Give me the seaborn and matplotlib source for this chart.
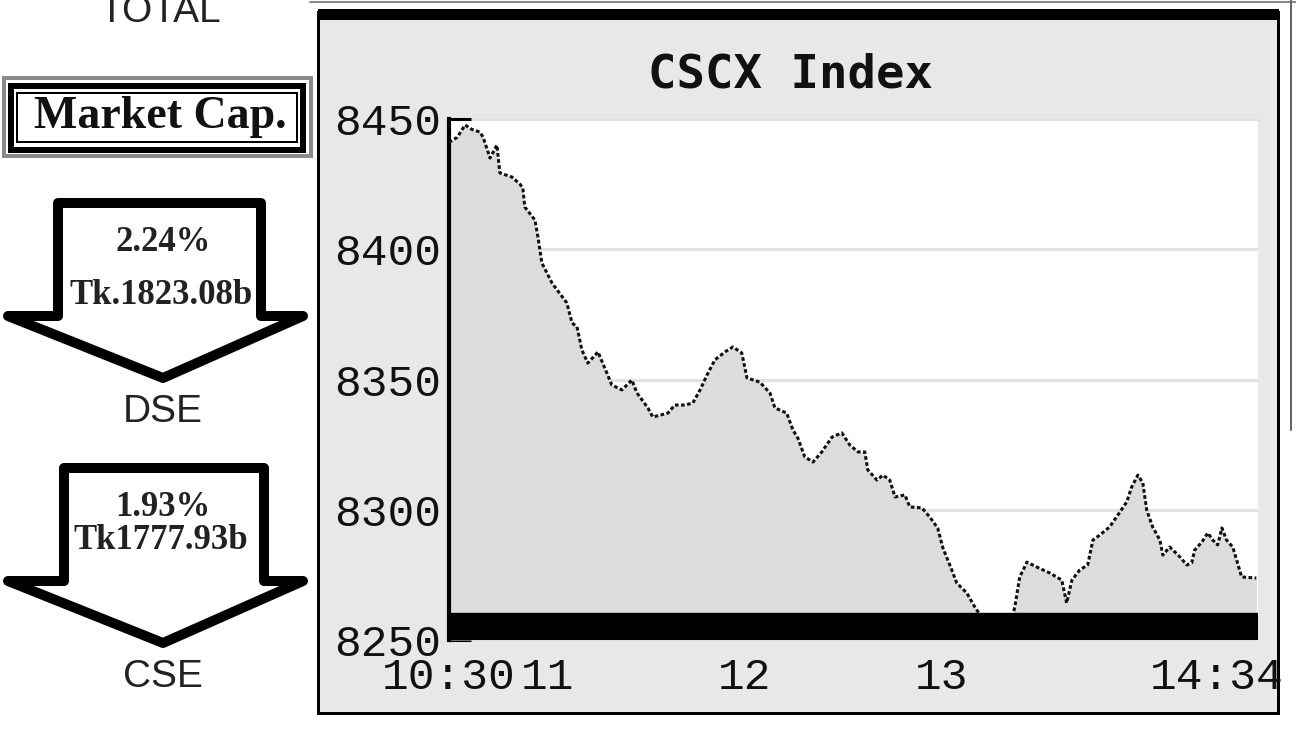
import matplotlib
matplotlib.use("Agg")
import matplotlib.pyplot as plt
import seaborn as sns
import pandas as pd
from matplotlib.patches import Rectangle, Polygon
from matplotlib.ticker import MultipleLocator
from matplotlib.transforms import ScaledTranslation

# CSCX intraday: minutes after 10:30 and index value
minutes = [0.0, 2.5, 4.9, 7.0, 9.4, 10.4, 12.5, 14.6, 15.5, 19.2, 21.6, 22.5, 23.1,
           26.2, 27.1, 28.3, 31.4, 35.9, 37.5, 39.0, 40.5, 42.3, 45.4, 48.1, 49.6,
           52.7, 55.7, 57.3, 60.6, 62.1, 66.7, 68.8, 71.9, 74.3, 76.5, 78.6, 81.0,
           84.1, 86.5, 89.2, 90.8, 94.7, 97.8, 99.3, 102.9, 104.8, 106.3, 108.4,
           110.9, 113.6, 116.7, 119.7, 122.1, 124.6, 126.7, 127.6, 130.4, 132.2,
           134.3, 135.9, 138.9, 140.4, 144.1, 146.5, 148.9, 150.5, 153.2, 154.7,
           157.8, 160.2, 162.7, 171.5, 172.4, 173.9, 176.1, 179.1, 183.1, 186.7,
           188.2, 189.8, 192.2, 194.6, 196.2, 198.3, 201.3, 204.4, 206.5, 208.0,
           209.9, 211.4, 212.6, 214.4, 216.6, 217.5, 219.6, 222.7, 224.8, 226.3,
           227.2, 229.4, 231.2, 232.7, 234.2, 235.5, 236.9, 238.8, 240.0, 241.5,
           246.0]
cscx = [8441.0, 8443.0, 8447.7, 8446.0, 8445.0, 8443.0, 8435.0, 8440.0, 8429.3,
        8427.7, 8425.0, 8423.5, 8416.2, 8411.2, 8404.7, 8394.7, 8387.0, 8379.4,
        8371.7, 8370.2, 8361.3, 8356.3, 8360.6, 8352.5, 8347.9, 8346.0, 8349.8,
        8344.8, 8339.1, 8335.6, 8337.1, 8340.2, 8340.2, 8341.0, 8346.0, 8351.7,
        8357.5, 8360.6, 8362.5, 8360.2, 8350.6, 8349.0, 8344.8, 8339.1, 8337.1,
        8330.6, 8327.5, 8320.3, 8318.3, 8322.2, 8327.9, 8329.5, 8324.9, 8322.2,
        8322.2, 8315.3, 8311.4, 8313.3, 8311.4, 8304.9, 8305.7, 8301.1, 8300.7,
        8297.2, 8293.0, 8285.3, 8276.9, 8271.9, 8268.0, 8262.7, 8258.0, 8258.0,
        8262.7, 8274.2, 8279.9, 8278.0, 8275.7, 8273.0, 8264.2, 8273.0, 8276.9,
        8278.8, 8288.4, 8290.3, 8293.4, 8299.1, 8303.0, 8308.7, 8313.3, 8310.3,
        8299.9, 8293.4, 8288.4, 8282.6, 8285.7, 8281.9, 8278.8, 8279.6, 8284.5,
        8287.6, 8291.1, 8288.4, 8286.5, 8293.0, 8288.4, 8285.7, 8280.7, 8274.2,
        8273.8]

tick_minutes = [0, 30, 90, 150, 244]
tick_labels = ["10:30", "11", "12", "13", "14:34"]
y_ticks = [8250, 8300, 8350, 8400, 8450]

markets = ["DSE", "CSE"]
market_pct = ["2.24%", "1.93%"]
market_cap = ["Tk.1823.08b", "Tk1777.93b"]

sns.set_theme(style="white")
plt.rcParams["font.family"] = ["DejaVu Sans"]

W, H = 1296, 729
px = 0.72  # points per pixel at dpi 100
fig = plt.figure(figsize=(W / 100, H / 100), dpi=100)
fig.patch.set_facecolor("white")

# pixel-space layer for the frame and the left panel
bg = fig.add_axes([0, 0, 1, 1])
bg.set_xlim(0, W)
bg.set_ylim(H, 0)
bg.axis("off")

bg.add_patch(Rectangle((318, 12), 960, 701, facecolor="#e8e8e8",
                       edgecolor="black", lw=3 * px))
bg.add_patch(Rectangle((318, 9), 961, 11, facecolor="black", edgecolor="none"))
bg.plot([310, W], [2, 2], color="#888888", lw=2 * px)
bg.plot([1291, 1291], [0, 430], color="#666666", lw=2 * px)

bg.text(790, 87, "CSCX Index", ha="center", va="baseline", fontsize=34,
        fontweight="bold", family="DejaVu Sans Mono", color="#111111")

# left panel
bg.text(160, 22, "TOTAL", ha="center", va="baseline", fontsize=28,
        family="Liberation Sans", color="#222222")
bg.add_patch(Rectangle((4, 78), 307, 78, fill=False, edgecolor="#8a8a8a", lw=4 * px))
bg.add_patch(Rectangle((11, 86), 292, 64, fill=False, edgecolor="black", lw=6 * px))
bg.add_patch(Rectangle((17, 93), 280, 49, fill=False, edgecolor="black", lw=2 * px))
bg.text(160, 128, "Market Cap.", ha="center", va="baseline", fontsize=33,
        fontweight="bold", family="Liberation Serif", color="#111111")

arrow_top = [203, 468]
shafts = [(58, 261), (64, 264)]
for i, name in enumerate(markets):
    top = arrow_top[i]
    sl, sr = shafts[i]
    shoulder = top + 113
    tip = top + 175
    verts = [(sl, top), (sr, top), (sr, shoulder), (303, shoulder),
             (163, tip), (8, shoulder), (sl, shoulder)]
    bg.add_patch(Polygon(verts, closed=True, facecolor="white", edgecolor="black",
                         lw=10 * px, joinstyle="round"))
    bg.text(163, top + 48, market_pct[i], ha="center", va="baseline", fontsize=25,
            fontweight="bold", family="Liberation Serif", color="#222222")
    bg.text(161, top + 101 - 20 * i, market_cap[i], ha="center", va="baseline",
            fontsize=25, fontweight="bold", family="Liberation Serif", color="#222222")
    bg.text(163, top + 219, name, ha="center", va="baseline", fontsize=28,
            family="Liberation Sans", color="#222222")

# chart
ax = fig.add_axes([449 / W, 1 - 640 / H, 809 / W, 521 / H])
ax.set_zorder(2)
ax.set_facecolor("white")

df = pd.DataFrame({"minute": minutes, "cscx": cscx})
ax.fill_between(df["minute"], df["cscx"], 8250, color="#dcdcdc", lw=0, zorder=1)
sns.lineplot(data=df, x="minute", y="cscx", ax=ax, color="#111111", lw=2.2,
             linestyle=(0, (1.2, 0.8)), zorder=3)
ax.axhspan(8250, 8260.4, color="black", zorder=4)

ax.set_xlim(0, 246.5)
ax.set_ylim(8250, 8450)
ax.set_xlabel("")
ax.set_ylabel("")
ax.set_yticks(y_ticks)
ax.yaxis.set_minor_locator(MultipleLocator(10))
ax.set_xticks(tick_minutes, tick_labels)

ax.yaxis.grid(True, color="#e0e0e0", lw=2)
ax.xaxis.grid(False)
ax.set_axisbelow(True)

ax.tick_params(axis="x", length=0, pad=12, labelsize=32, colors="#111111")
ax.tick_params(axis="y", which="major", direction="in", length=16, width=2.2,
               pad=6, labelsize=32, left=True, color="black", labelcolor="#111111")
ax.tick_params(axis="y", which="minor", direction="in", length=10, width=2.2,
               left=True, color="black")
for lbl in ax.get_xticklabels() + ax.get_yticklabels():
    lbl.set_family("Liberation Mono")
last = ax.get_xticklabels()[-1]
last.set_transform(last.get_transform() + ScaledTranslation(-0.33, 0, fig.dpi_scale_trans))

for side in ["top", "right", "bottom"]:
    ax.spines[side].set_visible(False)
ax.spines["left"].set_color("black")
ax.spines["left"].set_linewidth(3)

fig.savefig("out.png", dpi=100)
